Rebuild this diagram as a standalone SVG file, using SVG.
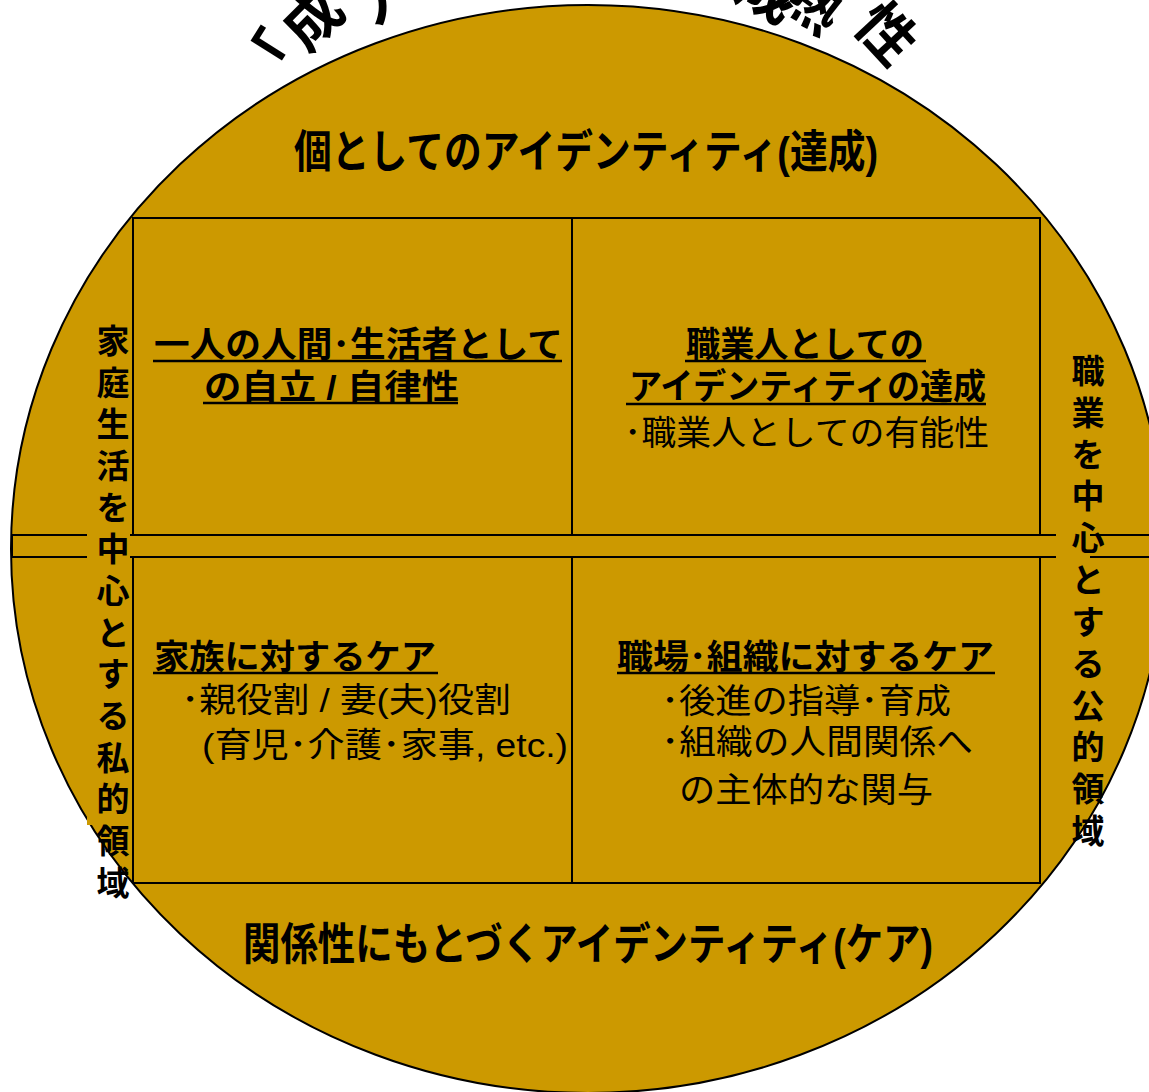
<svg xmlns="http://www.w3.org/2000/svg" width="1149" height="1092" viewBox="0 0 1149 1092">
<style>
.jp{font-family:"Liberation Sans","Noto Sans CJK JP",sans-serif;fill:#000}
.b{font-weight:bold}
.r{font-weight:normal}
.ul{stroke:#000;stroke-width:2.5}
.ln{stroke:#000;stroke-width:2;fill:none}
.vt{font-family:"Noto Sans CJK JP",sans-serif;font-weight:bold;font-size:33px;text-anchor:middle}
.arc{font-family:"Noto Sans CJK JP",sans-serif;font-weight:bold;font-size:58px;text-anchor:middle}
</style>
<rect width="1149" height="1092" fill="#fff"/>
<g id="title">
<text class="arc" transform="translate(261,57) rotate(-58)" y="32" font-size="84">「</text>
<text class="arc" transform="translate(312,18) rotate(-45)" y="22">成</text>
<text class="arc" transform="translate(385,-9) rotate(-36)" y="22">人</text>
<text class="arc" transform="translate(768,-8) rotate(30)" y="22">成</text>
<text class="arc" transform="translate(814,2) rotate(38)" y="22">熟</text>
<text class="arc" transform="translate(888,32) rotate(47)" y="23" font-size="60">性</text>
</g>
<g id="circle">
<ellipse cx="588" cy="549" rx="577" ry="544" fill="#CC9900" stroke="#000" stroke-width="2"/>
</g>
<g id="connectors">
<rect class="ln" x="133" y="218" width="907" height="665"/>
<line class="ln" x1="572" y1="218" x2="572" y2="883"/>
<rect x="12" y="535" width="1160" height="22" fill="#CC9900" stroke="#000" stroke-width="2"/>
</g>
<g id="top-label">
<text class="jp b" x="294" y="168" font-size="45" textLength="584" lengthAdjust="spacingAndGlyphs">個としてのアイデンティティ(達成)</text>
</g>
<g id="bottom-label">
<text class="jp b" x="243" y="960" font-size="44" textLength="690" lengthAdjust="spacingAndGlyphs">関係性にもとづくアイデンティティ(ケア)</text>
</g>
<g id="left-label">
<rect x="87" y="320" width="43" height="505" fill="#CC9900"/>
<text class="vt"><tspan x="113" y="353">家</tspan><tspan x="113" y="395">庭</tspan><tspan x="113" y="436">生</tspan><tspan x="113" y="478">活</tspan><tspan x="113" y="520">を</tspan><tspan x="113" y="561">中</tspan><tspan x="113" y="603">心</tspan><tspan x="113" y="645">と</tspan><tspan x="113" y="686">す</tspan><tspan x="113" y="728">る</tspan><tspan x="113" y="770">私</tspan><tspan x="113" y="811">的</tspan><tspan x="113" y="853">領</tspan><tspan x="113" y="895">域</tspan></text>
</g>
<g id="right-label">
<rect x="1056" y="340" width="34" height="470" fill="#CC9900"/>
<text class="vt"><tspan x="1088" y="383">職</tspan><tspan x="1088" y="425">業</tspan><tspan x="1088" y="467">を</tspan><tspan x="1088" y="508">中</tspan><tspan x="1088" y="550">心</tspan><tspan x="1088" y="592">と</tspan><tspan x="1088" y="634">す</tspan><tspan x="1088" y="676">る</tspan><tspan x="1088" y="718">公</tspan><tspan x="1088" y="759">的</tspan><tspan x="1088" y="801">領</tspan><tspan x="1088" y="843">域</tspan></text>
</g>
<g id="cell-top-left">
<text class="jp b" x="154" y="357" font-size="35" textLength="409" lengthAdjust="spacingAndGlyphs">一人の人間･生活者として</text>
<text class="jp b" x="204" y="399" font-size="34" textLength="255" lengthAdjust="spacingAndGlyphs">の自立 / 自律性</text>
<line class="ul" x1="153" y1="361" x2="562" y2="361"/>
<line class="ul" x1="203" y1="403" x2="458" y2="403"/>
</g>
<g id="cell-top-right">
<text class="jp b" x="686" y="357" font-size="35" textLength="238" lengthAdjust="spacingAndGlyphs">職業人としての</text>
<text class="jp b" x="629" y="399" font-size="35" textLength="357" lengthAdjust="spacingAndGlyphs">アイデンティティの達成</text>
<text class="jp r" x="624" y="445" font-size="34" textLength="365" lengthAdjust="spacingAndGlyphs">･職業人としての有能性</text>
<line class="ul" x1="685" y1="361" x2="926" y2="361"/>
<line class="ul" x1="626" y1="404" x2="986" y2="404"/>
</g>
<g id="cell-bottom-left">
<text class="jp b" x="154" y="669" font-size="34" textLength="282" lengthAdjust="spacingAndGlyphs">家族に対するケア</text>
<text class="jp r" x="181" y="712" font-size="34" textLength="330" lengthAdjust="spacingAndGlyphs">･親役割 / 妻(夫)役割</text>
<text class="jp r" x="202" y="757" font-size="34" textLength="366" lengthAdjust="spacingAndGlyphs">(育児･介護･家事, etc.)</text>
<line class="ul" x1="153" y1="673" x2="438" y2="673"/>
</g>
<g id="cell-bottom-right">
<text class="jp b" x="617" y="669" font-size="34" textLength="377" lengthAdjust="spacingAndGlyphs">職場･組織に対するケア</text>
<text class="jp r" x="661" y="713" font-size="34" textLength="290" lengthAdjust="spacingAndGlyphs">･後進の指導･育成</text>
<text class="jp r" x="661" y="754" font-size="34" textLength="312" lengthAdjust="spacingAndGlyphs">･組織の人間関係へ</text>
<text class="jp r" x="679" y="802" font-size="34" textLength="254" lengthAdjust="spacingAndGlyphs">の主体的な関与</text>
<line class="ul" x1="617" y1="673" x2="995" y2="673"/>
</g>
</svg>
